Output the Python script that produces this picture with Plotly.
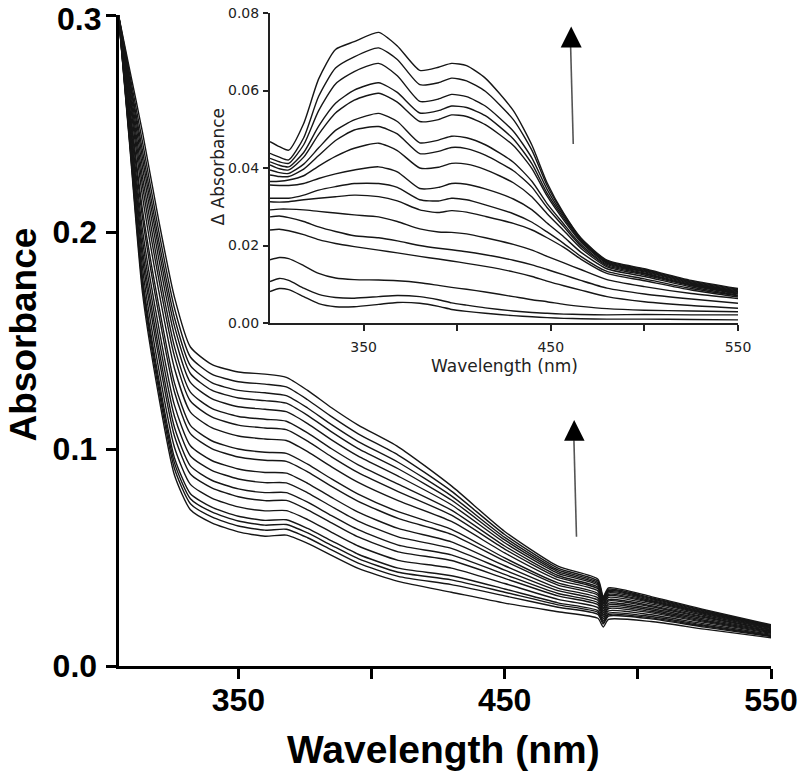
import plotly.graph_objects as go

# ---------------- main spectra (Absorbance vs wavelength) ----------------
W_MAIN = [305, 309, 314, 320, 326, 332, 340, 350, 360, 368, 376, 385, 395, 410, 430, 450, 470, 485, 487, 489, 505, 525, 550]

main_01 = [.300, .243, .172, .125, .088, .072, .066, .0618, .0598, .0603, .0565, .051, .045, .039, .034, .029, .025, .022, .018, .0215, .0205, .017, .013]
main_02 = [.300, .244, .175, .128, .091, .0748, .0687, .0645, .0626, .0630, .0591, .0535, .0474, .0413, .0375, .0323, .0271, .0238, .0194, .0230, .0217, .0179, .0136]
main_03 = [.300, .245, .177, .1305, .0936, .0771, .0710, .0668, .0649, .0652, .0613, .0556, .0495, .0432, .0397, .0340, .0282, .0247, .0201, .0237, .0222, .0184, .0139]
main_04 = [.300, .246, .179, .133, .096, .0794, .0732, .0690, .0671, .0674, .0634, .0577, .0515, .0451, .0416, .0355, .0291, .0255, .0208, .0244, .0228, .0188, .0142]
main_05 = [.300, .248, .1835, .1376, .1008, .0837, .0774, .0733, .0715, .0716, .0675, .0616, .0553, .0487, .0451, .0380, .0307, .0269, .0218, .0254, .0236, .0194, .0146]
main_06 = [.300, .250, .188, .143, .106, .0885, .0821, .0780, .0762, .0763, .0720, .0660, .0595, .0526, .0486, .0404, .0323, .0282, .0228, .0265, .0245, .0201, .0151]
main_07 = [.300, .252, .192, .147, .110, .0922, .0856, .0816, .0799, .0799, .0755, .0693, .0628, .0557, .0512, .0422, .0334, .0292, .0236, .0273, .0251, .0206, .0154]
main_08 = [.300, .254, .1965, .1518, .1151, .0968, .0902, .0862, .0845, .0844, .0798, .0735, .0668, .0595, .0542, .0442, .0347, .0303, .0245, .0282, .0258, .0211, .0158]
main_09 = [.300, .256, .201, .1568, .1202, .1015, .0947, .0908, .0892, .0889, .0842, .0777, .0709, .0634, .0572, .0462, .0359, .0314, .0253, .0290, .0265, .0217, .0161]
main_10 = [.300, .258, .2066, .1629, .1264, .1071, .1002, .0963, .0948, .0943, .0895, .0828, .0759, .0680, .0607, .0484, .0373, .0326, .0262, .0300, .0273, .0223, .0165]
main_11 = [.300, .260, .2103, .1670, .1305, .1109, .1038, .1000, .0985, .0980, .0930, .0862, .0792, .0711, .0630, .0498, .0383, .0334, .0268, .0306, .0278, .0227, .0168]
main_12 = [.300, .263, .2164, .1736, .1372, .1170, .1098, .1060, .1046, .1039, .0988, .0918, .0846, .0762, .0666, .0521, .0397, .0346, .0278, .0316, .0285, .0233, .0172]
main_13 = [.300, .265, .2214, .1791, .1428, .1221, .1148, .1110, .1097, .1089, .1036, .0964, .0891, .0804, .0695, .0539, .0408, .0356, .0286, .0324, .0292, .0238, .0175]
main_14 = [.300, .267, .2254, .1835, .1472, .1262, .1187, .1150, .1137, .1128, .1074, .1001, .0927, .0838, .0718, .0553, .0417, .0363, .0291, .0330, .0297, .0242, .0178]
main_15 = [.300, .269, .2299, .1884, .1522, .1307, .1232, .1195, .1183, .1172, .1117, .1042, .0967, .0875, .0743, .0568, .0427, .0372, .0298, .0337, .0302, .0246, .0181]
main_16 = [.300, .271, .2339, .1928, .1566, .1348, .1271, .1235, .1223, .1211, .1155, .1079, .1002, .0909, .0765, .0581, .0435, .0379, .0304, .0343, .0307, .0249, .0183]
main_17 = [.300, .272, .2375, .1967, .1606, .1384, .1306, .1270, .1259, .1246, .1189, .1112, .1034, .0939, .0784, .0593, .0443, .0385, .0309, .0348, .0311, .0253, .0185]
main_18 = [.300, .274, .2415, .2011, .1650, .1424, .1345, .1310, .1299, .1286, .1227, .1149, .1070, .0972, .0806, .0606, .0451, .0392, .0314, .0354, .0315, .0256, .0187]
main_19 = [.300, .276, .246, .206, .170, .147, .139, .1355, .1345, .133, .127, .119, .111, .101, .083, .062, .046, .040, .032, .036, .032, .026, .019]

MAIN_SERIES = [main_01, main_02, main_03, main_04, main_05, main_06, main_07, main_08, main_09, main_10,
               main_11, main_12, main_13, main_14, main_15, main_16, main_17, main_18, main_19]

# ---------------- inset difference spectra (Δ Absorbance) ----------------
W_INSET = [300, 305, 310, 318, 326, 335, 345, 358, 368, 380, 390, 397, 405, 415, 430, 440, 448, 457, 466, 480, 500, 525, 550]

inset_01 = [.0081, .0089, .0086, .0068, .0050, .0042, .0042, .0048, .0053, .0051, .0043, .0035, .0030, .0025, .0019, .0016, .0014, .0012, .0011, .0010, .0010, .0009, .0008]
inset_02 = [.0107, .0115, .0110, .0090, .0074, .0066, .0064, .0068, .0071, .0068, .0060, .0052, .0046, .0039, .0031, .0027, .0025, .0023, .0022, .0021, .0022, .0021, .0021]
inset_03 = [.0163, .0169, .0166, .0148, .0128, .0116, .0112, .0111, .0109, .0104, .0097, .0092, .0087, .0080, .0068, .0060, .0055, .0048, .0043, .0037, .0033, .0031, .0029]
inset_04 = [.0240, .0242, .0238, .0228, .0215, .0205, .0197, .0188, .0181, .0172, .0165, .0160, .0154, .0146, .0132, .0120, .0108, .0096, .0085, .0068, .0055, .0045, .0038]
inset_05 = [.0274, .0276, .0272, .0262, .0248, .0236, .0225, .0220, .0212, .0200, .0193, .0189, .0184, .0176, .0162, .0150, .0138, .0124, .0110, .0090, .0075, .0062, .0051]
inset_06 = [.0292, .0294, .0294, .0292, .0288, .0284, .0279, .0274, .0262, .0243, .0235, .0234, .0230, .0220, .0203, .0188, .0172, .0155, .0138, .0112, .0094, .0076, .0063]
inset_07 = [.0313, .0312, .0313, .0318, .0322, .0326, .0330, .0326, .0315, .0292, .0285, .0290, .0286, .0275, .0257, .0240, .0220, .0195, .0165, .0128, .0109, .0085, .0067]
inset_08 = [.0322, .0322, .0322, .0330, .0343, .0352, .0360, .0360, .0350, .0318, .0315, .0322, .0318, .0305, .0282, .0260, .0235, .0205, .0172, .0133, .0114, .0089, .0070]
inset_09 = [.0356, .0355, .0355, .0360, .0373, .0385, .0395, .0403, .0390, .0347, .0350, .0360, .0358, .0346, .0320, .0292, .0258, .0222, .0183, .0140, .0120, .0093, .0072]
inset_10 = [.0365, .0366, .0369, .0380, .0405, .0430, .0451, .0464, .0445, .0400, .0402, .0412, .0410, .0396, .0362, .0325, .0282, .0238, .0193, .0145, .0124, .0096, .0075]
inset_11 = [.0382, .0378, .0378, .0397, .0432, .0471, .0498, .0507, .0488, .0437, .0443, .0453, .0450, .0433, .0393, .0350, .0298, .0248, .0199, .0148, .0127, .0098, .0077]
inset_12 = [.0395, .0388, .0386, .0410, .0452, .0497, .0524, .0541, .0520, .0465, .0472, .0482, .0478, .0460, .0415, .0365, .0308, .0255, .0203, .0151, .0129, .0100, .0079]
inset_13 = [.0408, .0398, .0395, .0428, .0487, .0542, .0575, .0593, .0570, .0520, .0525, .0537, .0533, .0512, .0458, .0398, .0328, .0265, .0209, .0154, .0132, .0102, .0081]
inset_14 = [.0416, .0407, .0403, .0440, .0508, .0567, .0601, .0620, .0595, .0542, .0548, .0560, .0556, .0535, .0475, .0410, .0335, .0270, .0212, .0156, .0134, .0104, .0083]
inset_15 = [.0425, .0416, .0412, .0460, .0548, .0617, .0649, .0670, .0638, .0572, .0578, .0590, .0584, .0560, .0495, .0425, .0345, .0275, .0215, .0158, .0136, .0106, .0085]
inset_16 = [.0438, .0428, .0421, .0478, .0585, .0658, .0687, .0710, .0680, .0615, .0620, .0632, .0625, .0598, .0525, .0445, .0355, .0280, .0218, .0160, .0138, .0108, .0087]
inset_17 = [.0468, .0455, .0446, .0515, .0630, .0706, .0726, .0750, .0715, .0652, .0660, .0670, .0664, .0632, .0548, .0458, .0362, .0282, .0220, .0162, .0140, .0110, .0089]

INSET_SERIES = [inset_01, inset_02, inset_03, inset_04, inset_05, inset_06, inset_07, inset_08, inset_09,
                inset_10, inset_11, inset_12, inset_13, inset_14, inset_15, inset_16, inset_17]

X_TICKS = [350, 400, 450, 500, 550]
X_TICK_TEXT = ["350", "", "450", "", "550"]
Y_MAIN_TICKS = [0.0, 0.1, 0.2, 0.3]
Y_MAIN_TEXT = ["0.0", "0.1", "0.2", ""]
Y_MAIN_TOP_LABEL = "0.3"
Y_INSET_TICKS = [0.0, 0.02, 0.04, 0.06, 0.08]
Y_INSET_TEXT = ["0.00", "0.02", "0.04", "0.06", "0.08"]

W, H = 800, 775
BOLD = "Liberation Sans, Arial, Helvetica, sans-serif"
THIN = "DejaVu Sans, Liberation Sans, Arial, sans-serif"

fig = go.Figure()
for s in MAIN_SERIES:
    fig.add_trace(go.Scatter(x=W_MAIN, y=s, mode="lines", xaxis="x", yaxis="y",
                             line=dict(color="#161616", width=1.4, shape="spline", smoothing=0.6),
                             showlegend=False, hoverinfo="skip", cliponaxis=False))
for s in INSET_SERIES:
    fig.add_trace(go.Scatter(x=W_INSET, y=s, mode="lines", xaxis="x2", yaxis="y2",
                             line=dict(color="#161616", width=1.4, shape="spline", smoothing=0.6),
                             showlegend=False, hoverinfo="skip"))

def px_x(p):
    return p / W

def px_y(p):
    return (H - p) / H

fig.update_layout(
    width=W, height=H,
    margin=dict(l=0, r=0, t=0, b=0, autoexpand=False),
    paper_bgcolor="white", plot_bgcolor="rgba(0,0,0,0)",
    xaxis=dict(domain=[px_x(118.5), px_x(771)], range=[305, 550], anchor="y", automargin=False,
               showline=True, linewidth=3, linecolor="black", mirror=False,
               ticks="outside", ticklen=10, tickwidth=3, tickcolor="black",
               tickvals=X_TICKS, ticktext=X_TICK_TEXT, ticklabeloverflow="allow",
               tickfont=dict(family=BOLD, size=32, color="black", weight="bold"),
               showgrid=False, zeroline=False, ticklabelstandoff=-6),
    yaxis=dict(domain=[px_y(666), px_y(15)], range=[0, 0.3], anchor="x", automargin=False,
               showline=True, linewidth=3, linecolor="black",
               ticks="outside", ticklen=10, tickwidth=3, tickcolor="black",
               tickvals=Y_MAIN_TICKS, ticktext=Y_MAIN_TEXT, ticklabeloverflow="allow",
               tickfont=dict(family=BOLD, size=32, color="black", weight="bold"),
               showgrid=False, zeroline=False, ticklabelstandoff=2),
    xaxis2=dict(domain=[px_x(270), px_x(738)], range=[300, 550], anchor="y2", automargin=False,
                showline=True, linewidth=2, linecolor="#222",
                ticks="outside", ticklen=6, tickwidth=2, tickcolor="#222",
                tickvals=X_TICKS, ticktext=X_TICK_TEXT, ticklabeloverflow="allow",
                tickfont=dict(family=THIN, size=14, color="#222"),
                showgrid=False, zeroline=False, ticklabelstandoff=4),
    yaxis2=dict(domain=[px_y(323), px_y(13)], range=[0, 0.08], anchor="x2", automargin=False,
                showline=True, linewidth=2, linecolor="#222",
                ticks="outside", ticklen=5, tickwidth=2, tickcolor="#222",
                tickvals=Y_INSET_TICKS, ticktext=Y_INSET_TEXT, ticklabeloverflow="allow",
                tickfont=dict(family=THIN, size=14, color="#222"),
                showgrid=False, zeroline=False, ticklabelstandoff=1),
)

# top tick label of the main y axis, kept inside the page
fig.add_annotation(text=Y_MAIN_TOP_LABEL, x=px_x(102), y=1.0, xref="paper", yref="paper",
                   showarrow=False, xanchor="right", yanchor="top", borderpad=0,
                   font=dict(family=BOLD, size=32, color="black", weight="bold"))

fig.add_annotation(text="Absorbance", x=0, y=px_y(335), xref="paper", yref="paper",
                   textangle=-90, showarrow=False, xanchor="left", yanchor="middle",
                   font=dict(family=BOLD, size=37, color="black", weight="bold"))
fig.add_annotation(text="Wavelength (nm)", x=px_x(443.5), y=px_y(749), xref="paper", yref="paper",
                   showarrow=False, xanchor="center", yanchor="middle",
                   font=dict(family=BOLD, size=39, color="black", weight="bold"))
fig.add_annotation(text="Wavelength (nm)", x=px_x(504), y=px_y(366), xref="paper", yref="paper",
                   showarrow=False, xanchor="center", yanchor="middle",
                   font=dict(family=THIN, size=17, color="#222"))
fig.add_annotation(text="Δ Absorbance", x=px_x(217), y=px_y(166.5), xref="paper", yref="paper",
                   textangle=-90, showarrow=False, xanchor="center", yanchor="middle",
                   font=dict(family=THIN, size=17, color="#222"))

# arrows (main and inset)
fig.add_shape(type="line", xref="x", yref="y", x0=476.96, y0=0.0596, x1=476.0, y1=0.1040,
              line=dict(color="#555", width=1.6))
fig.add_shape(type="path", xref="x", yref="y",
              path="M 472.3,0.1038 L 480.0,0.1038 L 476.1,0.1134 Z",
              fillcolor="black", line=dict(width=0))
fig.add_shape(type="line", xref="x2", yref="y2", x0=462.0, y0=0.0462, x1=460.6, y1=0.0712,
              line=dict(color="#555", width=1.6))
fig.add_shape(type="path", xref="x2", yref="y2",
              path="M 455.3,0.0711 L 466.5,0.0711 L 460.9,0.0765 Z",
              fillcolor="black", line=dict(width=0))

fig.write_html("out.html", config={"displayModeBar": False},
               post_script="document.body.style.margin='0px';document.body.style.padding='0px';document.body.style.overflow='hidden';")
